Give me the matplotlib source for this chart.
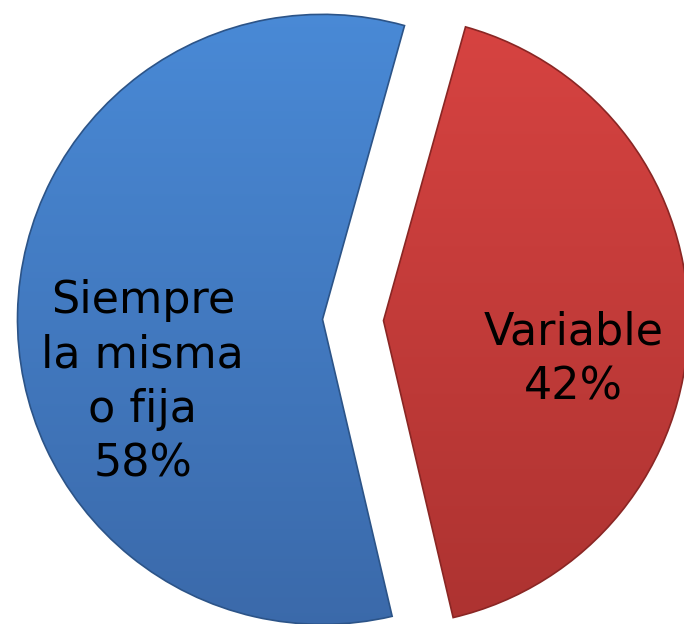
import numpy as np
import matplotlib.pyplot as plt
from matplotlib.colors import LinearSegmentedColormap

# datos
categorias = ["Siempre\nla misma\no fija", "Variable"]
porcentajes = [58, 42]
colores_top = ["#4a8bd8", "#d94442"]
colores_bottom = ["#3a68a8", "#ab3230"]
bordes = ["#2c5488", "#8a2624"]

fig = plt.figure(figsize=(6.84, 6.24), dpi=100)
ax = fig.add_axes([0, 0, 1, 1])

wedges, _ = ax.pie(porcentajes, startangle=74.4, explode=[0.1, 0.1],
                   radius=1.0, counterclock=True,
                   wedgeprops=dict(linewidth=1.2))

# gradiente vertical dentro de cada sector
grad = np.linspace(1, 0, 256).reshape(-1, 1)
for w, ct, cb, eb in zip(wedges, colores_top, colores_bottom, bordes):
    cmap = LinearSegmentedColormap.from_list("g", [cb, ct])
    w.set_facecolor("none")
    w.set_edgecolor(eb)
    w.set_zorder(3)
    im = ax.imshow(grad, cmap=cmap, extent=[-1.3, 1.3, -1.1, 1.1],
                   aspect="auto", zorder=2, vmin=0, vmax=1)
    im.set_clip_path(w)

# etiquetas
ax.text(-0.689, -0.205, f"{categorias[0]}\n{porcentajes[0]}%", ha="center",
        va="center", fontsize=32, linespacing=1.34, zorder=5)
ax.text(0.724, -0.13, f"{categorias[1]}\n{porcentajes[1]}%", ha="center",
        va="center", fontsize=32, linespacing=1.34, zorder=5)

ax.set_xlim(-353 / 305, 331 / 305)
ax.set_ylim(-304 / 305, 320 / 305)
ax.set_aspect("auto")
ax.axis("off")

plt.savefig("out.png", dpi=100)
plt.close()
